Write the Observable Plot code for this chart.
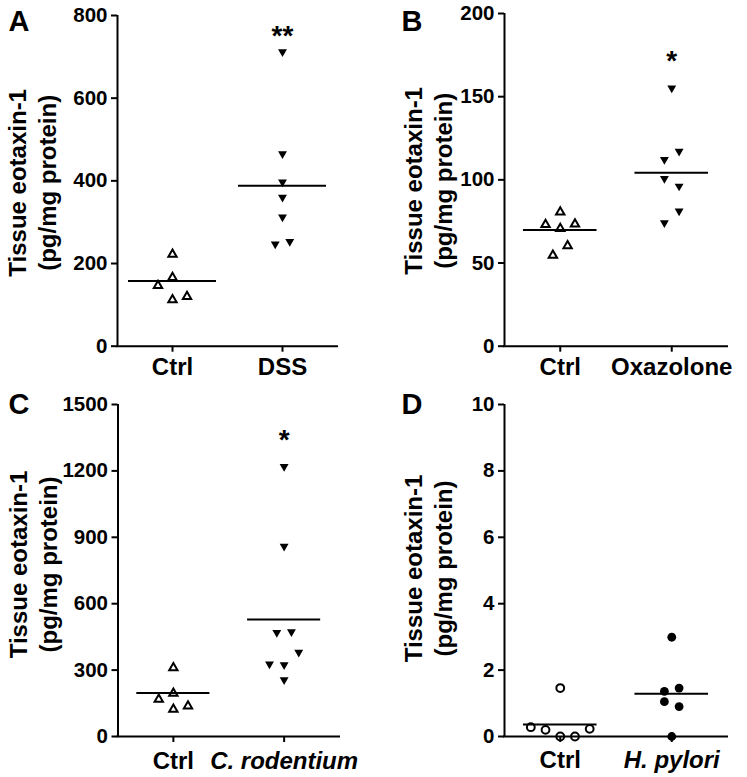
<!DOCTYPE html>
<html><head><meta charset="utf-8">
<script src="https://cdn.jsdelivr.net/npm/d3@7"></script>
<script src="https://cdn.jsdelivr.net/npm/@observablehq/plot@0.6"></script>
<style>
body{margin:0;background:#fff;}
#fig{position:relative;width:747px;height:777px;}
#fig > div{position:absolute;}
</style></head><body><div id="fig"></div>
<script>
// ---------- data ----------
const panelLetters = ["A", "B", "C", "D"];
const yLabel = "Tissue eotaxin-1\n(pg/mg protein)";

const groupsA = ["Ctrl", "DSS"];
const yTicksA = [0, 200, 400, 600, 800];
const ctrlA = [225, 169, 149.5, 115, 123];
const ctrlSlotA = [0, 0, -2, 0, 2];
const trtA = [709, 462, 394, 357, 309, 244, 250];
const trtSlotA = [0, 0, 0, 0, 0, -1, 1];
const meanA = [157.6, 388];
const starA = "**", starYA = 758;

const groupsB = ["Ctrl", "Oxazolone"];
const yTicksB = [0, 50, 100, 150, 200];
const ctrlB = [81.4, 73.8, 71.4, 74.2, 61, 55.4];
const ctrlSlotB = [0, -2, 0, 2, 1, -1];
const trtB = [154.4, 111.4, 116.4, 100, 95.4, 80.4, 73.4];
const trtSlotB = [0, -1, 1, -1, 1, 1, -1];
const meanB = [69.8, 104.3];
const starB = "*", starYB = 173;

const groupsC = ["Ctrl", "C. rodentium"];
const yTicksC = [0, 300, 600, 900, 1200, 1500];
const ctrlC = [316, 200, 173, 128, 143];
const ctrlSlotC = [0, 0, -2, 0, 2];
const trtC = [1214, 853, 464, 467, 374, 321, 318, 250];
const trtSlotC = [0, 0, -1, 1, 2, -2, 0, 0];
const meanC = [196, 529];
const starC = "*", starYC = 1352;

const groupsD = ["Ctrl", "H. pylori"];
const yTicksD = [0, 2, 4, 6, 8, 10];
const ctrlD = [1.46, 0.28, 0.2, 0, 0, 0.23];
const ctrlSlotD = [0, -4, -2, 0, 2, 4];
const trtD = [2.99, 1.36, 1.46, 1.05, 0.9, 0];
const trtSlotD = [0, -1, 1, -1, 1, 0];
const meanD = [0.36, 1.29];
const starD = "", starYD = null;

// ---------- symbols ----------
const S3 = Math.sqrt(3);
const triUp = {draw(ctx, size) {
  const w = Math.sqrt(4 * size / S3), h = w * S3 / 2;
  ctx.moveTo(0, -h / 2); ctx.lineTo(w / 2, h / 2); ctx.lineTo(-w / 2, h / 2); ctx.closePath();
}};
const triDown = {draw(ctx, size) {
  const w = Math.sqrt(4 * size / S3), h = w * S3 / 2;
  ctx.moveTo(0, h / 2); ctx.lineTo(w / 2, -h / 2); ctx.lineTo(-w / 2, -h / 2); ctx.closePath();
}};

const FONT = "'Liberation Sans', Arial, Helvetica, sans-serif";
const SLOT = 0.066;

const panels = [
  {letter: panelLetters[0], groups: groupsA, yTicks: yTicksA, ctrl: ctrlA, ctrlSlot: ctrlSlotA, trt: trtA, trtSlot: trtSlotA, mean: meanA, star: starA, starY: starYA,
   kind: "tri", left: 0, top: 0, width: 373, height: 380, mL: 117, mR: 36, mT: 15, mB: 34.3, labDx: -86, labDy: 2, xlDy: 12, hw: 0.4, italic: false, letDx: 8, letDy: 10},
  {letter: panelLetters[1], groups: groupsB, yTicks: yTicksB, ctrl: ctrlB, ctrlSlot: ctrlSlotB, trt: trtB, trtSlot: trtSlotB, mean: meanB, star: starB, starY: starYB,
   kind: "tri", left: 373, top: 0, width: 374, height: 380, mL: 131, mR: 20, mT: 13, mB: 34.3, labDx: -77, labDy: 1, xlDy: 12, hw: 0.33, italic: false, letDx: 28, letDy: 10},
  {letter: panelLetters[2], groups: groupsC, yTicks: yTicksC, ctrl: ctrlC, ctrlSlot: ctrlSlotC, trt: trtC, trtSlot: trtSlotC, mean: meanC, star: starC, starY: starYC,
   kind: "tri", left: 0, top: 380, width: 373, height: 397, mL: 117.5, mR: 34, mT: 24, mB: 41, labDx: -86, labDy: -6, xlDy: 15, hw: 0.33, italic: true, letDx: 8, letDy: 13},
  {letter: panelLetters[3], groups: groupsD, yTicks: yTicksD, ctrl: ctrlD, ctrlSlot: ctrlSlotD, trt: trtD, trtSlot: trtSlotD, mean: meanD, star: starD, starY: starYD,
   kind: "circle", left: 373, top: 380, width: 374, height: 397, mL: 131, mR: 20, mT: 24, mB: 41, labDx: -77, labDy: -2, xlDy: 14, hw: 0.33, italic: true, letDx: 28, letDy: 13}
];

function makePanel(c) {
  const ctrlPts = c.ctrl.map((v, i) => ({x: c.ctrlSlot[i] * SLOT, y: v}));
  const trtPts = c.trt.map((v, i) => ({x: 1 + c.trtSlot[i] * SLOT, y: v}));
  const means = c.mean.map((m, i) => ({i, m}));
  const yMax = d3.max(c.yTicks);
  const isTri = c.kind === "tri";
  const marks = [
    Plot.ruleX([-0.5], {y1: 0, y2: yMax, strokeWidth: 2, stroke: "#000"}),
    Plot.ruleY([0], {strokeWidth: 2, stroke: "#000", strokeLinecap: "square"}),
    Plot.axisY({ticks: c.yTicks, tickSize: 6, tickFormat: () => "", strokeWidth: 2, label: null}),
    Plot.text(c.yTicks, {y: d => d, text: d => String(d), frameAnchor: "left", dx: -10, textAnchor: "end", lineAnchor: "middle", fontSize: 20.5, fontWeight: "bold", fill: "#000"}),
    Plot.axisX({ticks: [0, 1], tickSize: 6, tickFormat: () => "", strokeWidth: 2, label: null}),
    Plot.text([0], {x: d => d, text: d => c.groups[d], frameAnchor: "bottom", lineAnchor: "top", dy: c.xlDy, fontSize: 24, fontWeight: "bold", fill: "#000"}),
    Plot.text([1], {x: d => d, text: d => c.groups[d], frameAnchor: "bottom", lineAnchor: "top", dy: c.xlDy, fontSize: 24, fontWeight: "bold", fontStyle: c.italic ? "italic" : "normal", fill: "#000"}),
    Plot.text([yLabel], {frameAnchor: "left", rotate: -90, dx: c.labDx, dy: c.labDy, fontSize: 24, fontWeight: "bold", lineHeight: 1.25, textAnchor: "middle", lineAnchor: "middle", fill: "#000"}),
    Plot.text([c.letter], {frameAnchor: "top-left", dx: -(c.mL - c.letDx), dy: -(c.mT - c.letDy), textAnchor: "start", lineAnchor: "top", fontSize: 29, fontWeight: "bold", fill: "#000"}),
    isTri
      ? Plot.dot(ctrlPts, {x: "x", y: "y", symbol: triUp, r: 3.1, stroke: "#000", strokeWidth: 2, fill: "none"})
      : Plot.dot(ctrlPts, {x: "x", y: "y", symbol: "circle", r: 3.9, stroke: "#000", strokeWidth: 2, fill: "none"}),
    isTri
      ? Plot.dot(trtPts, {x: "x", y: "y", symbol: triDown, r: 3.3, fill: "#000", stroke: "none"})
      : Plot.dot(trtPts, {x: "x", y: "y", symbol: "circle", r: 4.4, fill: "#000", stroke: "none"}),
    Plot.ruleY(means, {y: "m", x1: d => d.i - c.hw, x2: d => d.i + c.hw, strokeWidth: 2, stroke: "#000"})
  ];
  if (c.star) marks.push(Plot.text([{x: 1, y: c.starY, t: c.star}], {x: "x", y: "y", text: "t", fontSize: 28, fontWeight: "bold", dy: 3, fill: "#000"}));
  return Plot.plot({
    width: c.width, height: c.height,
    marginLeft: c.mL, marginRight: c.mR, marginTop: c.mT, marginBottom: c.mB,
    x: {domain: [-0.5, 1.5]},
    y: {domain: [0, yMax]},
    style: {fontFamily: FONT, color: "#000", background: "white", overflow: "visible"},
    marks
  });
}

const fig = document.getElementById("fig");
for (const c of panels) {
  const div = document.createElement("div");
  div.style.left = c.left + "px";
  div.style.top = c.top + "px";
  div.appendChild(makePanel(c));
  fig.appendChild(div);
}
</script></body></html>
